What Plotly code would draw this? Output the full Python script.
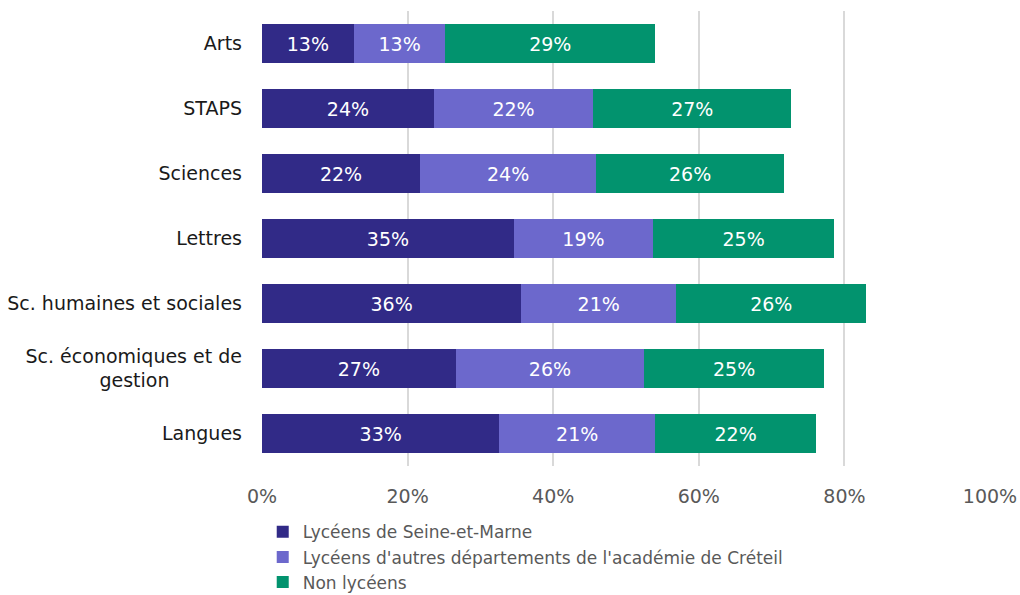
import plotly.graph_objects as go

categories = ["Arts", "STAPS", "Sciences", "Lettres", "Sc. humaines et sociales",
              "Sc. économiques et de<br>gestion" + "\u00a0" * 12, "Langues"]
seine_et_marne = [12.6, 23.6, 21.7, 34.6, 35.6, 26.6, 32.6]
autres_creteil = [12.6, 21.9, 24.2, 19.1, 21.3, 25.9, 21.4]
non_lyceens = [28.8, 27.2, 25.8, 24.9, 26.1, 24.7, 22.1]
series_names = ["Lycéens de Seine-et-Marne",
                "Lycéens d'autres départements de l'académie de Créteil",
                "Non lycéens"]
colors = ["#312a87", "#6c68cc", "#02936e"]
tick_vals = [0, 20, 40, 60, 80, 100]
tick_text = ["0%", "20%", "40%", "60%", "80%", "100%"]

FONT = "DejaVu Sans"
fig = go.Figure()
for name, vals, col in zip(series_names, [seine_et_marne, autres_creteil, non_lyceens], colors):
    fig.add_trace(go.Bar(
        y=categories, x=vals, name=name, orientation="h",
        marker=dict(color=col, line=dict(width=0)),
        texttemplate="%{x:.0f}%", textposition="inside", insidetextanchor="middle",
        textfont=dict(color="white", size=19, family=FONT),
        hoverinfo="skip",
    ))

fig.update_layout(
    barmode="stack", bargap=0.415,
    width=1020, height=595,
    margin=dict(l=262, r=30, t=11, b=129, autoexpand=False),
    plot_bgcolor="white", paper_bgcolor="white",
    font=dict(family=FONT, size=19, color="#595959"),
    showlegend=True,
    legend=dict(orientation="v", x=0.001, xanchor="left", y=-0.106, yanchor="top",
                font=dict(size=17, color="#595959", family=FONT),
                traceorder="normal", itemwidth=30, tracegroupgap=0),
)
fig.update_xaxes(range=[0, 100], tickvals=tick_vals, ticktext=tick_text,
                 showgrid=True, gridcolor="#d9d9d9", gridwidth=2,
                 zeroline=False, showline=False, ticks="", ticklen=0,
                 ticklabelstandoff=17, automargin=False,
                 tickfont=dict(size=19, color="#595959"))
fig.update_yaxes(autorange="reversed", showgrid=False, zeroline=False, showline=False,
                 ticks="", ticklabelstandoff=19, automargin=False,
                 tickfont=dict(size=19, color="#1a1a1a"))

fig.write_html("out.html", config={"displayModeBar": False},
               post_script="document.body.style.margin='0';document.body.style.overflow='hidden';")
